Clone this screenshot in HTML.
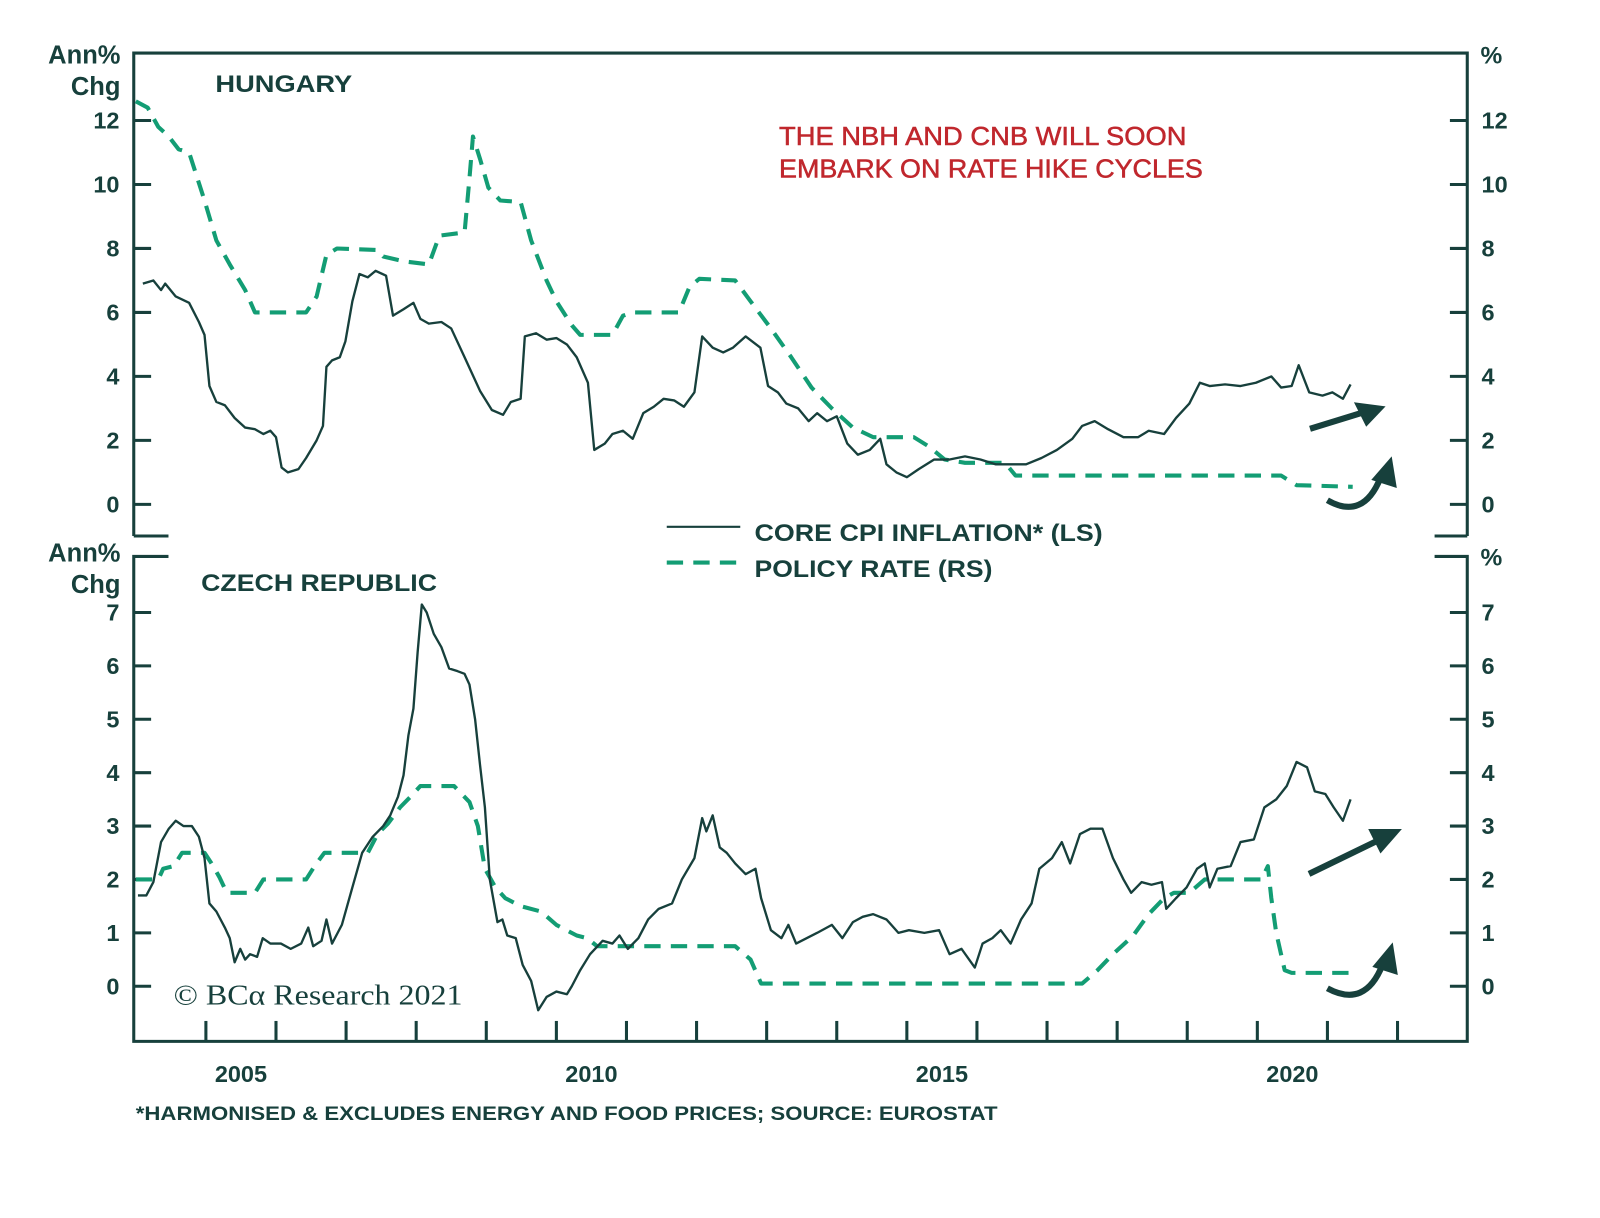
<!DOCTYPE html>
<html><head><meta charset="utf-8"><style>
html,body{margin:0;padding:0;background:#fff;}
svg{display:block;}
text{font-family:"Liberation Sans",sans-serif;fill:#17403c;}
</style></head><body>
<svg id="chart" width="1600" height="1218" viewBox="0 0 1567 1193" preserveAspectRatio="none" xmlns="http://www.w3.org/2000/svg">
<g id="frame" stroke="#17403c" stroke-width="3" fill="none">
<path d="M131,525 L131,52 L1437,52 L1437,525"/>
<path d="M131,525 L165,525 M1405,525 L1437,525"/>
<path d="M165,545 L131,545 L131,1020 L1437,1020 L1437,545 L1405,545"/>
</g>
<g id="axes"></g>
<g id="series"></g>
<text x="118" y="62" text-anchor="end" font-size="25" font-weight="bold">Ann%</text>
<text x="118" y="93" text-anchor="end" font-size="25" font-weight="bold">Chg</text>
<text x="1450" y="62" font-size="24" font-weight="bold">%</text>
<text x="118" y="550" text-anchor="end" font-size="25" font-weight="bold">Ann%</text>
<text x="118" y="581" text-anchor="end" font-size="25" font-weight="bold">Chg</text>
<text x="1450" y="554" font-size="24" font-weight="bold">%</text>
<text x="211" y="90" font-size="24" font-weight="bold" textLength="134" lengthAdjust="spacingAndGlyphs">HUNGARY</text>
<text x="197" y="579" font-size="24" font-weight="bold" textLength="231" lengthAdjust="spacingAndGlyphs">CZECH REPUBLIC</text>
<text x="763" y="142" font-size="25" style="fill:#c0272d;stroke:#c0272d;stroke-width:0.5" textLength="399" lengthAdjust="spacingAndGlyphs">THE NBH AND CNB WILL SOON</text>
<text x="763" y="174" font-size="25" style="fill:#c0272d;stroke:#c0272d;stroke-width:0.5" textLength="415" lengthAdjust="spacingAndGlyphs">EMBARK ON RATE HIKE CYCLES</text>
<g>
<line x1="653" y1="516" x2="725" y2="516" stroke="#17403c" stroke-width="2"/>
<text x="739" y="530" font-size="24" font-weight="bold" textLength="341" lengthAdjust="spacingAndGlyphs">CORE CPI INFLATION* (LS)</text>
<line x1="653" y1="551" x2="725" y2="551" stroke="#139d74" stroke-width="4" stroke-dasharray="16,10"/>
<text x="739" y="565" font-size="24" font-weight="bold" textLength="233" lengthAdjust="spacingAndGlyphs">POLICY RATE (RS)</text>
</g>
<text x="170" y="984" font-size="28" style="font-family:'Liberation Serif',serif" textLength="283" lengthAdjust="spacingAndGlyphs">© BCα Research 2021</text>
<text x="133" y="1097" font-size="19" font-weight="bold" textLength="844" lengthAdjust="spacingAndGlyphs">*HARMONISED &amp; EXCLUDES ENERGY AND FOOD PRICES; SOURCE: EUROSTAT</text>
<g fill="#17403c" stroke="#17403c">
<path d="M1283,420 L1335,404" stroke-width="6" fill="none"/>
<path d="M1357,398 L1326,394 L1338,418 Z" stroke="none"/>
<path d="M1300,490 Q1335,510 1352,468" stroke-width="6" fill="none"/>
<path d="M1363,447 L1343,470 L1368,478 Z" stroke="none"/>
<path d="M1282,856 L1350,823" stroke-width="6" fill="none"/>
<path d="M1373,812 L1340,812 L1352,836 Z" stroke="none"/>
<path d="M1300,968 Q1337,988 1354,945" stroke-width="6" fill="none"/>
<path d="M1364,923 L1344,947 L1369,955 Z" stroke="none"/>
</g>
</svg>
<script>
// ---- data (dates as years since 2004) ----
const huCpiDates = [0.10,0.25,0.36,0.42,0.57,0.76,0.90,0.98,1.05,1.15,1.27,1.41,1.56,1.70,1.82,1.92,2.00,2.08,2.17,2.32,2.43,2.58,2.67,2.72,2.80,2.91,2.99,3.09,3.19,3.31,3.42,3.57,3.67,3.82,3.96,4.06,4.18,4.36,4.50,4.69,4.91,5.08,5.24,5.35,5.49,5.55,5.71,5.86,6.00,6.15,6.29,6.45,6.54,6.69,6.80,6.95,7.09,7.24,7.39,7.53,7.68,7.82,7.97,8.08,8.23,8.38,8.52,8.70,8.91,9.02,9.16,9.28,9.45,9.60,9.72,9.86,10.00,10.15,10.30,10.47,10.62,10.71,10.85,11.00,11.17,11.39,11.61,11.83,12.05,12.27,12.48,12.70,12.92,13.14,13.36,13.50,13.68,13.87,14.09,14.30,14.45,14.67,14.84,15.03,15.18,15.32,15.54,15.76,15.98,16.20,16.34,16.49,16.59,16.74,16.93,17.07,17.22,17.33];
const huCpiValues = [6.9,7.0,6.7,6.9,6.5,6.3,5.7,5.3,3.7,3.2,3.1,2.7,2.4,2.35,2.2,2.3,2.1,1.15,1.0,1.1,1.45,2.0,2.45,4.3,4.5,4.6,5.1,6.35,7.2,7.1,7.3,7.15,5.9,6.1,6.3,5.8,5.65,5.7,5.5,4.6,3.55,2.95,2.8,3.2,3.3,5.25,5.35,5.15,5.2,5.0,4.6,3.8,1.7,1.9,2.2,2.3,2.05,2.85,3.05,3.3,3.25,3.05,3.5,5.25,4.9,4.75,4.9,5.25,4.9,3.7,3.5,3.15,3.0,2.6,2.85,2.6,2.75,1.9,1.55,1.7,2.05,1.25,1.0,0.85,1.1,1.4,1.4,1.5,1.4,1.25,1.25,1.25,1.45,1.7,2.05,2.45,2.6,2.35,2.1,2.1,2.3,2.2,2.7,3.15,3.8,3.7,3.75,3.7,3.8,4.0,3.65,3.7,4.35,3.5,3.4,3.5,3.3,3.75];
const huRateDates = [0.00,0.17,0.32,0.47,0.61,0.76,0.98,1.15,1.34,1.56,1.70,2.43,2.58,2.72,2.87,3.45,3.53,3.82,4.18,4.33,4.69,4.76,4.81,4.91,5.03,5.20,5.49,5.64,5.86,6.00,6.22,6.34,6.80,6.95,7.09,7.75,7.90,8.04,8.55,8.77,9.06,9.35,9.64,9.93,10.23,10.52,11.10,11.32,11.54,11.83,12.40,12.55,16.34,16.56,17.36];
const huRateValues = [12.6,12.4,11.8,11.5,11.1,11.0,9.5,8.25,7.5,6.7,6.0,6.0,6.5,7.8,8.0,7.95,7.75,7.6,7.5,8.4,8.5,10.2,11.5,10.8,9.9,9.5,9.45,8.25,7.0,6.35,5.6,5.3,5.3,5.9,6.0,6.0,6.8,7.05,7.0,6.35,5.5,4.6,3.65,3.0,2.4,2.1,2.1,1.8,1.4,1.3,1.3,0.9,0.9,0.6,0.55];
const czCpiDates = [0.03,0.15,0.25,0.36,0.47,0.57,0.68,0.80,0.90,0.98,1.05,1.15,1.27,1.34,1.41,1.49,1.56,1.63,1.73,1.81,1.92,2.07,2.21,2.36,2.46,2.53,2.65,2.72,2.80,2.94,3.09,3.23,3.38,3.53,3.63,3.74,3.82,3.89,3.96,4.02,4.08,4.15,4.25,4.36,4.47,4.59,4.69,4.76,4.84,4.91,4.98,5.05,5.16,5.23,5.30,5.42,5.52,5.64,5.74,5.86,6.00,6.15,6.22,6.34,6.48,6.66,6.80,6.90,7.02,7.17,7.31,7.46,7.65,7.79,7.97,8.08,8.14,8.23,8.33,8.43,8.55,8.70,8.84,8.92,9.06,9.21,9.31,9.42,9.57,9.72,9.93,10.08,10.23,10.37,10.52,10.71,10.88,11.03,11.25,11.46,11.61,11.78,11.97,12.08,12.22,12.34,12.48,12.63,12.78,12.89,13.07,13.21,13.33,13.47,13.62,13.79,13.94,14.09,14.20,14.35,14.49,14.64,14.70,14.84,14.99,15.14,15.25,15.32,15.43,15.62,15.76,15.95,16.10,16.27,16.42,16.56,16.71,16.82,16.97,17.09,17.22,17.33];
const czCpiValues = [1.7,1.7,1.95,2.7,2.95,3.1,3.0,3.0,2.8,2.4,1.55,1.4,1.1,0.9,0.45,0.7,0.5,0.6,0.55,0.9,0.8,0.8,0.7,0.8,1.1,0.75,0.85,1.25,0.8,1.15,1.85,2.5,2.8,3.0,3.2,3.55,3.95,4.7,5.2,6.25,7.15,7.0,6.6,6.35,5.95,5.9,5.85,5.65,5.0,4.15,3.35,2.0,1.2,1.25,0.95,0.9,0.4,0.1,-0.45,-0.2,-0.1,-0.15,0.0,0.3,0.6,0.85,0.8,0.95,0.7,0.9,1.25,1.45,1.55,2.0,2.4,3.15,2.9,3.2,2.6,2.5,2.3,2.1,2.2,1.65,1.05,0.9,1.15,0.8,0.9,1.0,1.15,0.9,1.2,1.3,1.35,1.25,1.0,1.05,1.0,1.05,0.6,0.7,0.35,0.8,0.9,1.05,0.8,1.25,1.55,2.2,2.4,2.7,2.3,2.85,2.95,2.95,2.4,2.0,1.75,1.95,1.9,1.95,1.45,1.65,1.85,2.2,2.3,1.85,2.2,2.25,2.7,2.75,3.35,3.5,3.75,4.2,4.1,3.65,3.6,3.35,3.1,3.5];
const czRateDates = [0.00,0.32,0.39,0.54,0.66,0.98,1.08,1.19,1.30,1.70,1.82,2.43,2.55,2.69,3.31,3.45,3.60,3.77,3.92,4.06,4.54,4.76,4.88,4.98,5.13,5.27,5.49,5.78,6.00,6.29,6.44,6.58,8.55,8.77,8.92,13.50,13.72,13.94,14.23,14.45,14.67,14.81,15.03,15.25,16.06,16.15,16.20,16.27,16.39,16.49,17.36];
const czRateValues = [2.0,2.0,2.2,2.25,2.5,2.5,2.3,2.05,1.75,1.75,2.0,2.0,2.25,2.5,2.5,2.85,3.05,3.35,3.55,3.75,3.75,3.45,3.0,2.2,1.85,1.65,1.5,1.4,1.15,0.95,0.9,0.75,0.75,0.5,0.05,0.05,0.3,0.6,0.95,1.35,1.65,1.75,1.75,2.0,2.0,2.25,1.65,1.0,0.3,0.25,0.25];
const topTicks = [0,2,4,6,8,10,12];
const bottomTicks = [0,1,2,3,4,5,6,7];
const yearTicks = [2005,2006,2007,2008,2009,2010,2011,2012,2013,2014,2015,2016,2017,2018,2019,2020,2021,2022];
const yearLabels = [2005,2010,2015,2020];

const NS = 'http://www.w3.org/2000/svg';
const xScale = y => 133 + (y - 2004) * 68.65;
const yTop = v => 494 - v * 31.33;
const yBot = v => 966 - v * 52.3;
const axes = document.getElementById('axes');
const series = document.getElementById('series');
function mk(tag, attrs, parent, txt) {
  const e = document.createElementNS(NS, tag);
  for (const k in attrs) e.setAttribute(k, attrs[k]);
  if (txt !== undefined) e.textContent = txt;
  parent.appendChild(e);
  return e;
}
function ticks(list, scale, side) {
  list.forEach(v => {
    const y = scale(v);
    const l = mk('line', {x1:131,x2:148,y1:y,y2:y,stroke:'#17403c','stroke-width':3}, axes);
    
    
    const r = mk('line', {x1:1420,x2:1437,y1:y,y2:y,stroke:'#17403c','stroke-width':3}, axes);
    
    
    const t = mk('text', {x:117,y:y+8,'text-anchor':'end','font-size':23,'font-weight':'bold'}, axes, String(v));
    
    
    const t2 = mk('text', {x:1451,y:y+8,'font-size':23,'font-weight':'bold'}, axes, String(v));
    
    
  });
}
ticks(topTicks, yTop, 'top');
ticks(bottomTicks, yBot, 'bottom');
yearTicks.forEach(yr => {
  const x = xScale(yr);
  const l = mk('line', {x1:x,x2:x,y1:1020,y2:1000,stroke:'#17403c','stroke-width':3}, axes);
  
  
});
yearLabels.forEach(yr => {
  const t = mk('text', {x:xScale(yr+0.5),y:1060,'text-anchor':'middle','font-size':23,'font-weight':'bold'}, axes, String(yr));
  
  
});
function line(dates, vals, ys, dashed, name) {
  const d = dates.map((t, i) => (i ? 'L' : 'M') + xScale(2004 + t).toFixed(1) + ',' + ys(vals[i]).toFixed(1)).join(' ');
  const p = mk('path', {d:d, fill:'none', stroke: dashed ? '#139d74' : '#17403c', 'stroke-width': dashed ? 4 : 2.3, 'stroke-dasharray': dashed ? '16,10' : 'none', 'stroke-linejoin':'round'}, series);
  
  
}
line(huRateDates, huRateValues, yTop, true, 'hungary-policy-rate-line');
line(huCpiDates, huCpiValues, yTop, false, 'hungary-core-cpi-line');
line(czRateDates, czRateValues, yBot, true, 'czech-policy-rate-line');
line(czCpiDates, czCpiValues, yBot, false, 'czech-core-cpi-line');
</script>
</body></html>
